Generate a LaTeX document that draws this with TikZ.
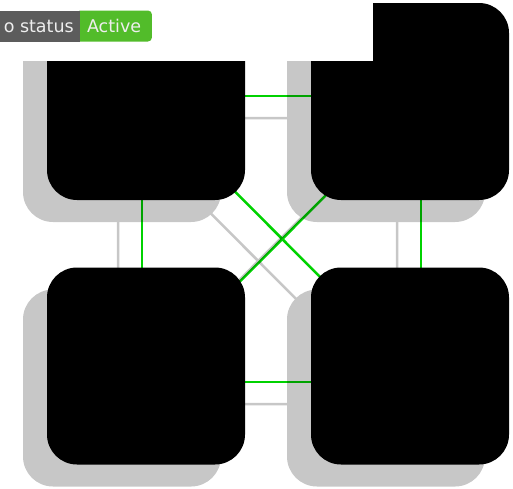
\documentclass[tikz,border=0pt]{standalone}
\usepackage{fontspec}
\newfontfamily\badgefont{DejaVu Sans}
\usetikzlibrary{calc}
\definecolor{netgreen}{RGB}{0,210,0}
\definecolor{badgegrey}{RGB}{92,92,92}
\definecolor{badgegreen}{RGB}{82,188,42}
\definecolor{badgetext}{RGB}{238,238,238}
\tikzset{
  box/.style={fill=black, rounded corners=30pt, minimum width=198pt, minimum height=197pt, inner sep=0pt},
  link/.style={line width=2.5pt},
  badge/.style={text=badgetext, font=\badgefont\fontsize{17.5}{20}\selectfont, minimum height=31pt, inner ysep=0pt},
}
% four boxes and their links, #1,#2 = offset, #3 = link colour
\newcommand\drawnet[3]{%
  \coordinate (tl) at ({146+(#1)},{101.5+(#2)});
  \coordinate (tr) at ({410+(#1)},{101.5+(#2)});
  \coordinate (bl) at ({146+(#1)},{366+(#2)});
  \coordinate (br) at ({410+(#1)},{366+(#2)});
  \draw[link,#3] ($(tl)+(0,-5.5)$) -- ($(tr)+(0,-5.5)$);
  \draw[link,#3] ($(tl)+(-4,0)$) -- ($(bl)+(-4,0)$);
  \draw[link,#3] ($(tr)+(11,0)$) -- ($(br)+(11,0)$);
  \draw[link,#3] ($(bl)+(0,16)$) -- ($(br)+(0,16)$);
  \draw[link,#3] ($(tl)+(0,1)$) -- ($(br)+(0,1)$);
  \draw[link,#3] ($(tr)+(0,9.5)$) -- ($(bl)+(0,9.5)$);
  \foreach \n in {tl,tr,bl,br}{\node[box] (\n-box) at (\n) {};}
}

\begin{document}
\begin{tikzpicture}[x=1pt, y=-1pt]
  \useasboundingbox (0,0) rectangle (513,488);
  \clip (0,0) rectangle (513,488);
  % graph
  \drawnet{0}{0}{netgreen}
  % drop shadow on top
  \begin{scope}[transparency group, opacity=0.22]
    \drawnet{-24}{22}{black}
  \end{scope}
  % blank strip over the top
  \fill[white] (0,0) rectangle (373,61);
  % status badge
  \node[badge, fill=badgegreen, rounded corners=4pt, anchor=west, inner xsep=10.8pt] (state) at (76,26) {Active};
  \node[badge, fill=badgegrey, anchor=east, inner xsep=6pt] (repo) at (80,26) {o status};
\end{tikzpicture}
\end{document}
